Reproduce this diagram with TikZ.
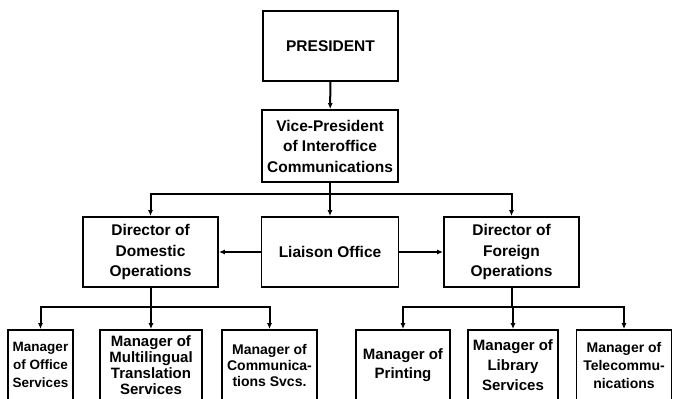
\documentclass[tikz,border=0pt]{standalone}
\usepackage{fontspec}
\setmainfont{Liberation Sans}
\usetikzlibrary{arrows.meta}
\tikzset{
    orgbox/.style={draw, line width=1.8pt, minimum height=70pt, inner sep=0pt, align=center,
        font=\bfseries\fontsize{15.5}{20.5}\selectfont},
    link/.style={line width=2pt, -{Latex[length=6pt,width=5pt]}},
    bar/.style={line width=2pt}
}
\begin{document}
\begin{tikzpicture}[x=1pt, y=-1pt]
    \useasboundingbox (0,0) rectangle (673,399);
    \node[orgbox, minimum width=135pt] (pres) at (330.5,46) {PRESIDENT};
    \node[orgbox, minimum width=136pt, minimum height=72pt] (vp) at (330,146) {Vice-President\\of Interoffice\\Communications};
    \node[orgbox, minimum width=135pt] (dom) at (150.5,252) {Director of\\Domestic\\Operations};
    \node[orgbox, minimum width=137pt] (liaison) at (330,252) {Liaison Office};
    \node[orgbox, minimum width=135pt] (frn) at (511.5,252) {Director of\\Foreign\\Operations};
    \foreach \nm/\cx/\bw/\sz/\fs/\txt in {
        m1/40.5/65/13.5/18/{Manager\\of Office\\Services},
        m2/151/102/15/16/{Manager of\\Multilingual\\Translation\\Services},
        m3/269.5/95/14/16/{Manager of\\Communica-\\tions Svcs.},
        m4/403/94/15/19/{Manager of\\Printing},
        m5/513/90/15/20/{Manager of\\Library\\Services},
        m6/624/95/14/18/{Manager of\\Telecommu-\\nications}} {
        \node[orgbox, minimum width=\bw pt, font=\bfseries\fontsize{\sz}{\fs}\selectfont] (\nm) at (\cx,365) {\txt};
    }
    \coordinate (bus) at (330,194);
    \coordinate (dbus) at (150.5,307);
    \coordinate (fbus) at (511.5,307);
    \draw[link] (pres) -- (vp);
    \draw[bar] (vp) -- (bus);
    \draw[link] (bus) -| (dom);
    \draw[link] (bus) -| (frn);
    \draw[link] (bus) -- (liaison);
    \draw[link] (liaison) -- (dom);
    \draw[link] (liaison) -- (frn);
    \draw[bar] (dom) -- (dbus);
    \draw[bar] (frn) -- (fbus);
    \foreach \m in {m1, m2, m3} \draw[link] (dbus) -| (\m);
    \foreach \m in {m4, m5, m6} \draw[link] (fbus) -| (\m);
\end{tikzpicture}
\end{document}
